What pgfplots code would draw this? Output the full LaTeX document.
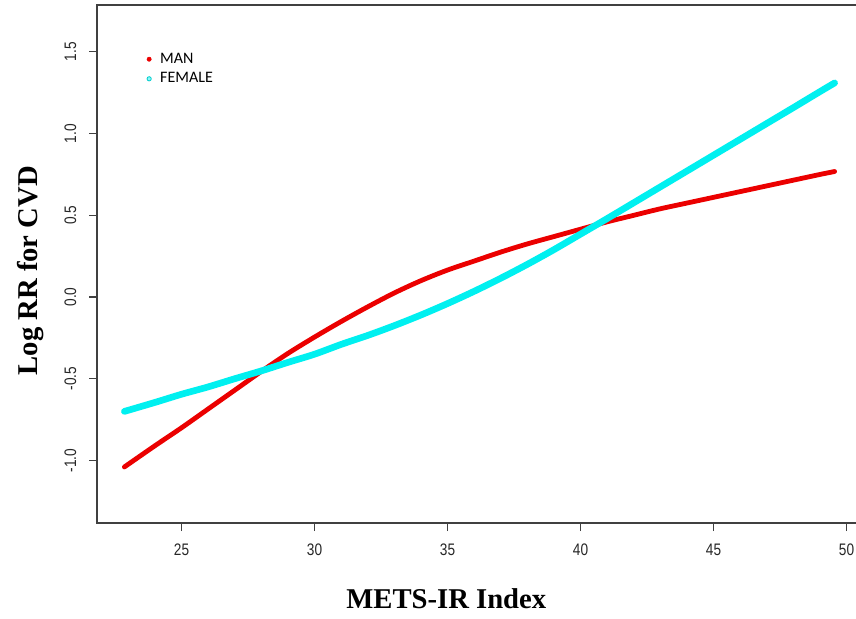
\documentclass[border=0pt]{standalone}
\usepackage{pgfplots}
\pgfplotsset{compat=1.18}
\usepackage{fontspec}
\setmainfont{Liberation Serif}
\newfontfamily\narrowsans[FakeStretch=0.82]{Liberation Sans}
\newfontfamily\legfont{Carlito}
\definecolor{manred}{RGB}{235,0,0}
\definecolor{femcyan}{RGB}{0,240,240}
\begin{document}
\begin{tikzpicture}
\useasboundingbox (0,0) rectangle (642pt,463.5pt);
\begin{axis}[
  at={(72.75pt,71.25pt)}, anchor=south west,
  width=570.75pt, height=388.5pt, scale only axis,
  xmin=21.82, xmax=50.43, ymin=-1.383, ymax=1.787,
  axis line style={draw=black!75, line width=1pt},
  tick align=outside, major tick length=6pt,
  tick style={draw=black!75, line width=0.8pt},
  xtick={25,30,35,40,45,50}, xticklabels={25,30,35,40,45,50},
  ytick={-1,-0.5,0,0.5,1,1.5}, yticklabels={-1.0,-0.5,0.0,0.5,1.0,1.5},
  xtick pos=bottom, ytick pos=left,
  ticklabel style={font=\narrowsans\fontsize{12.5pt}{14pt}\selectfont, text=black!85},
  xticklabel style={yshift=-6pt},
  yticklabel style={rotate=90, anchor=south, yshift=6pt},
  xlabel={\textbf{METS-IR Index}},
  ylabel={\textbf{Log RR for CVD}},
  label style={font=\fontsize{21.5pt}{24pt}\selectfont},
  xlabel style={at={(rel axis cs:0.459,0)}, anchor=north, yshift=-46pt},
  ylabel style={at={(rel axis cs:0,0.487)}, anchor=south, yshift=36pt},
  legend style={draw=none, fill=none, at={(rel axis cs:0.058,0.918)}, anchor=north west,
    font=\legfont\fontsize{12pt}{13pt}\selectfont, row sep=1.5pt,
    /tikz/every even column/.append style={column sep=0pt}},
  legend cell align=left,
  legend image code/.code={\path (0,0) (0.85em,0); \draw[#1] (0.25em,0) circle (1.6pt);},
]
\addlegendimage{manred, fill=manred}
\addlegendentry{MAN}
\addlegendimage{femcyan!85!black, fill=femcyan!45, line width=0.6pt}
\addlegendentry{FEMALE}
\addplot[manred, line width=3.6pt, line cap=round, smooth, forget plot] coordinates {
(22.85,-1.04) (24,-0.91) (25,-0.80) (26,-0.685) (27,-0.57) (28,-0.455) (29,-0.345)
(30,-0.245) (31,-0.15) (32,-0.06) (33,0.025) (34,0.10) (35,0.165) (36,0.22) (37,0.275)
(38,0.325) (39,0.37) (40,0.415) (41,0.46) (42,0.50) (43,0.54) (44,0.575) (45,0.61)
(46,0.645) (47,0.68) (48,0.715) (49,0.75) (49.55,0.768)};
\addplot[femcyan, line width=5pt, line cap=round, smooth, forget plot] coordinates {
(22.85,-0.70) (24,-0.645) (25,-0.595) (26,-0.55) (27,-0.50) (28,-0.452) (29,-0.40)
(30,-0.35) (31,-0.29) (32,-0.235) (33,-0.175) (34,-0.11) (35,-0.04) (36,0.035)
(37,0.115) (38,0.20) (39,0.29) (40,0.385) (41,0.48) (42,0.577) (43,0.674) (44,0.771)
(45,0.868) (46,0.965) (47,1.062) (48,1.159) (49,1.257) (49.55,1.31)};
\end{axis}
\end{tikzpicture}
\end{document}
